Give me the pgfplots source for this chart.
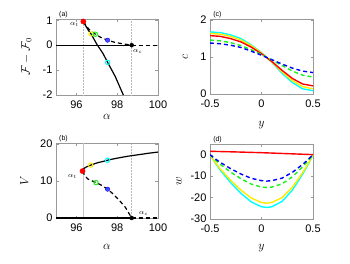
\documentclass[border=0pt]{standalone}
\usepackage{pgfplots}
\pgfplotsset{compat=1.18}
\usepackage{fontspec}
\setmainfont{Liberation Sans}
\definecolor{myyellow}{rgb}{1,0.92,0}
\definecolor{mygreen}{rgb}{0.1,0.95,0.1}
\definecolor{mycyan}{rgb}{0,1,1}
\tikzset{panellabel/.style={font=\fontsize{7}{7}\selectfont, anchor=south west, inner sep=1pt}}
\pgfplotsset{
  every axis/.append style={
    scale only axis,
    anchor=south west,
    axis line style={gray!80},
    tick style={gray!80, line width=0.4pt},
    tick align=inside,
    major tick length=2.5pt,
    tick label style={font=\fontsize{11}{11}\selectfont},
    /pgf/number format/assume math mode=true,
    label style={font=\fontsize{12}{12}\selectfont},
    xticklabel style={yshift=-2pt},
    clip mode=individual,
  },
}
\begin{document}
\begin{tikzpicture}
\path[use as bounding box] (0pt,0pt) rectangle (350pt,263pt);
% (a)
\begin{axis}[at={(56pt,168pt)}, width=102pt, height=76pt,
  xmin=95, xmax=100, ymin=-2, ymax=1.05,
  xtick={96,98,100}, ytick={-2,-1,0,1},
  xlabel={$\alpha$}, ylabel={$\mathcal{F}-\mathcal{F}_0$},
  xlabel style={at={(axis description cs:0.5,-0.29)},anchor=center},
  ylabel style={at={(axis description cs:-0.29,0.5)},anchor=center},
  clip=false]
\addplot[gray!55, densely dotted, line width=0.5pt] coordinates {(96.34,-2) (96.34,1.05)};
\addplot[gray!55, densely dotted, line width=0.5pt] coordinates {(98.71,-2) (98.71,1.05)};
\addplot[black, line width=1.2pt] coordinates {(95,0) (98.71,0)};
\addplot[black, line width=1.2pt, dash pattern=on 4pt off 3pt] coordinates {(98.71,0) (100,0)};
\addplot[black, line width=1.2pt] coordinates {
 (96.34,0.95) (96.45,0.78) (96.6,0.58) (96.72,0.45) (97.0,0.04) (97.3,-0.33)
 (97.53,-0.69) (97.9,-1.25) (98.3,-2.0)};
\addplot[black, line width=1.2pt, dash pattern=on 4pt off 3pt] coordinates {
 (96.34,0.95) (96.6,0.65) (96.93,0.44) (97.2,0.31) (97.53,0.2) (97.9,0.11) (98.3,0.05) (98.71,0)};
\addplot[only marks, mark=*, mark size=2.6pt, red] coordinates {(96.34,0.95)};
\addplot[only marks, mark=o, mark size=2.2pt, myyellow, line width=1pt] coordinates {(96.72,0.45)};
\addplot[only marks, mark=o, mark size=2.2pt, mygreen, line width=1pt] coordinates {(96.93,0.44)};
\addplot[only marks, mark=*, mark size=2.2pt, blue, fill=blue!70] coordinates {(97.53,0.2)};
\addplot[only marks, mark=o, mark size=2.2pt, mycyan, line width=1pt] coordinates {(97.53,-0.69)};
\addplot[only marks, mark=*, mark size=2pt, black] coordinates {(98.71,0)};
\node[font=\fontsize{7}{7}\selectfont] at (axis cs:95.9,0.82) {$\alpha_t$};
\node[font=\fontsize{7}{7}\selectfont] at (axis cs:99.0,-0.25) {$\alpha_c$};
\node[panellabel] at (rel axis cs:0.02,1) {(a)};
\end{axis}
% (c)
\begin{axis}[at={(210pt,169pt)}, width=103pt, height=75pt,
  xmin=-0.5, xmax=0.5, ymin=0, ymax=2.03,
  xtick={-0.5,0,0.5}, ytick={0,1,2},
  xticklabels={-0.5,0,0.5},
  xlabel={$y$}, ylabel={$c$},
  xlabel style={at={(axis description cs:0.5,-0.42)},anchor=center},
  ylabel style={at={(axis description cs:-0.24,0.5)},anchor=center}]
\addplot[mycyan, line width=1.4pt] coordinates {(-0.5,1.68) (-0.4,1.66) (-0.3,1.60) (-0.2,1.50) (-0.1,1.33) (0,1.12) (0.1,0.86) (0.2,0.56) (0.3,0.31) (0.4,0.14) (0.5,0.09)};
\addplot[myyellow, line width=1.4pt] coordinates {(-0.5,1.64) (-0.4,1.62) (-0.3,1.56) (-0.2,1.46) (-0.1,1.31) (0,1.11) (0.1,0.87) (0.2,0.60) (0.3,0.36) (0.4,0.20) (0.5,0.14)};
\addplot[red, line width=1.4pt] coordinates {(-0.5,1.58) (-0.4,1.56) (-0.3,1.50) (-0.2,1.41) (-0.1,1.27) (0,1.09) (0.1,0.88) (0.2,0.64) (0.3,0.42) (0.4,0.27) (0.5,0.22)};
\addplot[mygreen, line width=1.4pt, dash pattern=on 4pt off 3pt] coordinates {(-0.5,1.46) (-0.4,1.44) (-0.3,1.39) (-0.2,1.31) (-0.1,1.20) (0,1.07) (0.1,0.92) (0.2,0.77) (0.3,0.62) (0.4,0.51) (0.5,0.46)};
\addplot[blue, line width=1.4pt, dash pattern=on 4pt off 3pt] coordinates {(-0.5,1.38) (-0.4,1.36) (-0.3,1.32) (-0.2,1.26) (-0.1,1.16) (0,1.05) (0.1,0.93) (0.2,0.81) (0.3,0.70) (0.4,0.62) (0.5,0.58)};
\node[panellabel] at (rel axis cs:0.02,1) {(c)};
\end{axis}
% (b)
\begin{axis}[at={(56pt,45pt)}, width=102pt, height=75pt,
  xmin=95, xmax=100, ymin=0, ymax=20.3,
  xtick={96,98,100}, ytick={0,10,20},
  xlabel={$\alpha$}, ylabel={$V$},
  xlabel style={at={(axis description cs:0.5,-0.38)},anchor=center},
  ylabel style={at={(axis description cs:-0.31,0.5)},anchor=center},
  clip=false]
\addplot[gray!45, line width=0.5pt] coordinates {(96.34,0) (96.34,20.3)};
\addplot[gray!55, densely dotted, line width=0.5pt] coordinates {(98.71,0) (98.71,20.3)};
\addplot[black, line width=1.4pt] coordinates {(95,0) (98.71,0)};
\addplot[black, line width=1.4pt, dash pattern=on 4pt off 3pt] coordinates {(98.71,0) (100,0)};
\addplot[black, line width=1.2pt] coordinates {
 (96.30,12.7) (96.35,13.3) (96.45,13.7) (96.6,14.1) (96.8,14.5) (97.0,14.9) (97.3,15.3)
 (97.6,15.75) (98.0,16.2) (98.5,16.7) (99.0,17.1) (99.5,17.5) (100,17.85)};
\addplot[black, line width=1.2pt, dash pattern=on 4pt off 3pt] coordinates {
 (96.30,12.7) (96.4,11.6) (96.55,10.6) (96.75,10.1) (96.96,9.6) (97.25,8.8) (97.53,7.8)
 (97.8,6.5) (98.1,4.8) (98.4,2.9) (98.71,0)};
\addplot[only marks, mark=*, mark size=2.6pt, red] coordinates {(96.30,12.7)};
\addplot[only marks, mark=o, mark size=2.2pt, myyellow, line width=1pt] coordinates {(96.7,14.3)};
\addplot[only marks, mark=o, mark size=2.2pt, mycyan, line width=1pt] coordinates {(97.53,15.65)};
\addplot[only marks, mark=o, mark size=2.2pt, mygreen, line width=1pt] coordinates {(96.96,9.6)};
\addplot[only marks, mark=*, mark size=2.2pt, blue, fill=blue!70] coordinates {(97.53,7.8)};
\addplot[only marks, mark=*, mark size=2pt, black] coordinates {(98.71,0)};
\node[font=\fontsize{7}{7}\selectfont] at (axis cs:95.8,11.3) {$\alpha_t$};
\node[font=\fontsize{7}{7}\selectfont] at (axis cs:99.3,1.3) {$\alpha_c$};
\node[panellabel] at (rel axis cs:0.02,1) {(b)};
\end{axis}
% (d)
\begin{axis}[at={(210pt,44pt)}, width=103pt, height=75pt,
  xmin=-0.5, xmax=0.5, ymin=-30, ymax=5,
  xtick={-0.5,0,0.5}, ytick={-30,-20,-10,0},
  xticklabels={-0.5,0,0.5},
  xlabel={$y$}, ylabel={$w$},
  xlabel style={at={(axis description cs:0.5,-0.39)},anchor=center},
  ylabel style={at={(axis description cs:-0.3,0.5)},anchor=center}]
\addplot[mycyan, line width=1.4pt] coordinates {(-0.5,0) (-0.45,-3.8) (-0.4,-7.2) (-0.3,-13) (-0.2,-18) (-0.1,-22) (0,-24.3) (0.05,-24.6) (0.1,-24.3) (0.2,-21.8) (0.3,-16.5) (0.4,-9) (0.45,-4.8) (0.5,0)};
\addplot[myyellow, line width=1.4pt] coordinates {(-0.5,0) (-0.45,-3.5) (-0.4,-6.6) (-0.3,-11.9) (-0.2,-16.5) (-0.1,-20.2) (0,-22.3) (0.05,-22.6) (0.1,-22.3) (0.2,-20) (0.3,-15.2) (0.4,-8.3) (0.45,-4.4) (0.5,0)};
\addplot[red, line width=1.4pt] coordinates {(-0.5,1.6) (-0.25,1.3) (0,0.95) (0.25,0.5) (0.5,0.05)};
\addplot[mygreen, line width=1.4pt, dash pattern=on 4pt off 3pt] coordinates {(-0.5,0) (-0.45,-2.4) (-0.4,-4.5) (-0.3,-8.1) (-0.2,-11.2) (-0.1,-13.7) (0,-15.1) (0.05,-15.3) (0.1,-15.1) (0.2,-13.6) (0.3,-10.3) (0.4,-5.6) (0.45,-3) (0.5,0)};
\addplot[blue, line width=1.4pt, dash pattern=on 4pt off 3pt] coordinates {(-0.5,0) (-0.45,-1.9) (-0.4,-3.6) (-0.3,-6.5) (-0.2,-9) (-0.1,-11) (0,-12.1) (0.05,-12.3) (0.1,-12.1) (0.2,-10.9) (0.3,-8.2) (0.4,-4.5) (0.45,-2.4) (0.5,0)};
\node[panellabel] at (rel axis cs:0.02,1) {(d)};
\end{axis}
\end{tikzpicture}
\end{document}
